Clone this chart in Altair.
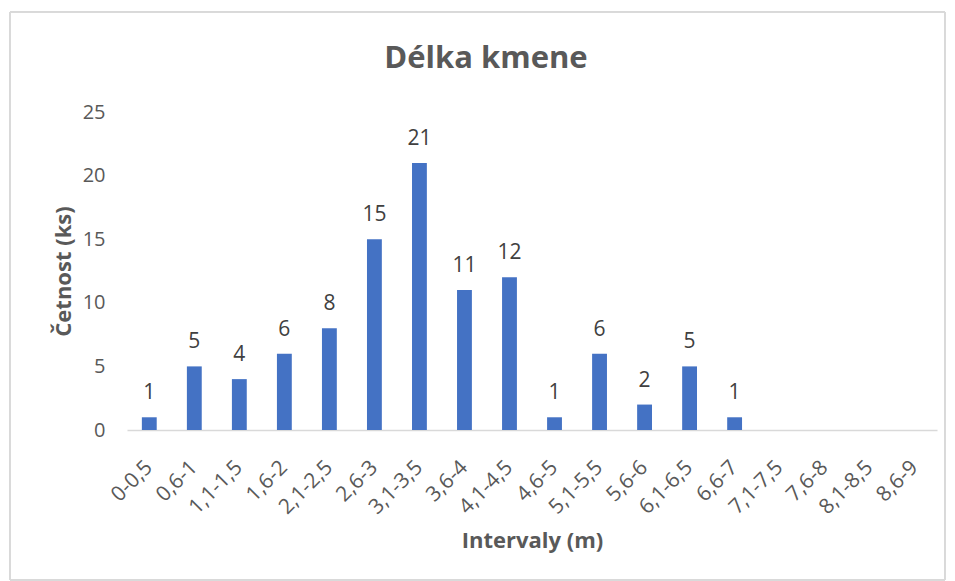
import altair as alt
import pandas as pd

categories = ["0-0,5", "0,6-1", "1,1-1,5", "1,6-2", "2,1-2,5", "2,6-3", "3,1-3,5",
              "3,6-4", "4,1-4,5", "4,6-5", "5,1-5,5", "5,6-6", "6,1-6,5", "6,6-7",
              "7,1-7,5", "7,6-8", "8,1-8,5", "8,6-9"]
counts = [1, 5, 4, 6, 8, 15, 21, 11, 12, 1, 6, 2, 5, 1, None, None, None, None]
title_text = "Délka kmene"

df = pd.DataFrame({"interval": categories, "count": counts})

FONT = "Open Sans"
x = alt.X("interval:N", sort=categories,
          scale=alt.Scale(paddingInner=0.67, paddingOuter=0.33),
          axis=alt.Axis(title="Intervaly (m)", labelAngle=-45, labelAlign="right",
                        labelBaseline="middle", labelFontSize=21, labelColor="#595959",
                        labelFont=FONT, labelPadding=34, ticks=False, domainColor="#d9d9d9",
                        domainWidth=1.5, titleFont=FONT, titleFontSize=22, titleColor="#595959",
                        titleFontWeight="bold", titlePadding=13))
y = alt.Y("count:Q", scale=alt.Scale(domain=[0, 25], nice=False),
          axis=alt.Axis(title="Četnost (ks)", values=[0, 5, 10, 15, 20, 25], grid=False,
                        domain=False, ticks=False, labelFontSize=20, labelColor="#595959",
                        labelFont=FONT, labelPadding=22, titleFont=FONT, titleFontSize=22,
                        titleColor="#595959", titleFontWeight="bold", titlePadding=7))

bars = alt.Chart(df).mark_bar(color="#4472C4").encode(x=x, y=y)
labels = alt.Chart(df).transform_filter("datum['count'] != null").mark_text(
    dy=-14, fontSize=21, color="#404040", font=FONT, baseline="bottom"
).encode(x=alt.X("interval:N", sort=categories), y="count:Q", text="count:Q")

border = alt.Chart(df).mark_rect(fill=None, stroke="#d9d9d9", strokeWidth=1).encode(
    x=alt.value(-117), x2=alt.value(818), y=alt.value(-100), y2=alt.value(468))

title = alt.Chart(pd.DataFrame({"t": [title_text]})).mark_text(
    font=FONT, fontSize=31, fontWeight="bold", color="#595959", align="center",
    baseline="middle").encode(x=alt.value(359), y=alt.value(-53), text="t:N")

chart = alt.layer(border, bars, labels, title).properties(
    width=810, height=318,
    background="white",
    autosize=alt.AutoSizeParams(type="none"),
    padding={"left": 127, "top": 112, "right": 18, "bottom": 151},
).configure_view(stroke="transparent", strokeWidth=0)

chart.save("out.html", embed_options={"renderer": "svg", "actions": False})
